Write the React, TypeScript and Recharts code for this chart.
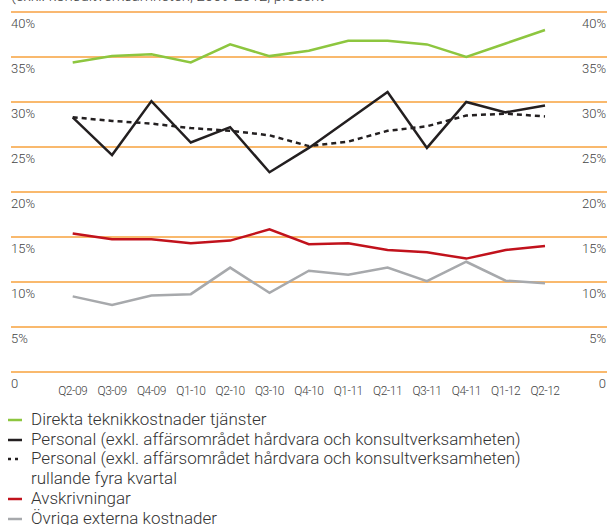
import { LineChart, Line, XAxis, YAxis, CartesianGrid, ReferenceLine } from "recharts";

const FONT = "Roboto, 'Liberation Sans', sans-serif";

const quarters = ["Q2-09", "Q3-09", "Q4-09", "Q1-10", "Q2-10", "Q3-10", "Q4-10", "Q1-11", "Q2-11", "Q3-11", "Q4-11", "Q1-12", "Q2-12"];
const direkta = [34.4, 35.1, 35.3, 34.4, 36.4, 35.1, 35.7, 36.8, 36.8, 36.4, 35.0, 36.5, 38.0];
const personal = [28.3, 24.1, 30.1, 25.5, 27.2, 22.2, 24.9, 28.0, 31.1, 24.9, 30.0, 28.85, 29.6];
const personalRolling = [28.3, 27.9, 27.6, 27.1, 26.8, 26.3, 25.1, 25.6, 26.8, 27.3, 28.5, 28.7, 28.4];
const avskrivningar = [15.4, 14.75, 14.75, 14.3, 14.6, 15.85, 14.2, 14.3, 13.55, 13.3, 12.6, 13.55, 14.0];
const ovriga = [8.4, 7.45, 8.5, 8.65, 11.6, 8.8, 11.25, 10.8, 11.6, 10.1, 12.25, 10.15, 9.85];
const yTicks = [0, 5, 10, 15, 20, 25, 30, 35, 40];

const data = quarters.map((q, i) => ({
  q,
  direkta: direkta[i],
  personal: personal[i],
  personalRolling: personalRolling[i],
  avskrivningar: avskrivningar[i],
  ovriga: ovriga[i],
}));

const legend = [
  { label: "Direkta teknikkostnader tjänster", color: "#8dc63f", dash: false },
  { label: "Personal (exkl. affärsområdet hårdvara och konsultverksamheten)", color: "#231f20", dash: false },
  { label: "Personal (exkl. affärsområdet hårdvara och konsultverksamheten)\nrullande fyra kvartal", color: "#231f20", dash: true },
  { label: "Avskrivningar", color: "#c1121c", dash: false },
  { label: "Övriga externa kostnader", color: "#a7a9ac", dash: false },
];

const renderYTick = (props: any) => {
  const { y, payload } = props;
  const txt = payload.value === 0 ? "0" : `${payload.value}%`;
  return (
    <g key={payload.value}>
      <text x={11} y={y + 16} fontSize={13} fill="#444" fontFamily={FONT} fontWeight={300} textAnchor="start">{txt}</text>
      <text x={606} y={y + 16} fontSize={13} fill="#444" fontFamily={FONT} fontWeight={300} textAnchor="end">{txt}</text>
    </g>
  );
};

export default function App() {
  return (
    <div style={{ position: "absolute", left: 0, top: 0, width: 609, height: 525, background: "#fff", overflow: "hidden", fontFamily: FONT }}>
      <div style={{ position: "absolute", left: 11, top: -11, fontSize: 15, lineHeight: "15px", color: "#444", whiteSpace: "nowrap", fontWeight: 300 }}>
        (exkl. konsultverksamheten, 2009-2012, procent
      </div>
      <LineChart width={609} height={400} data={data} margin={{ top: 12, right: 2, left: 10, bottom: 0 }}>
        <CartesianGrid vertical={false} stroke="#f7a23c" strokeWidth={1.5} />
        <ReferenceLine y={40} stroke="#f9b873" strokeWidth={1.5} />
        <XAxis
          dataKey="q"
          height={28}
          axisLine={false}
          tickLine={false}
          interval={0}
          padding={{ left: 61.7, right: 62 }}
          tickMargin={8}
          tick={{ fontSize: 12, fill: "#444", fontFamily: FONT, fontWeight: 300, letterSpacing: -0.5 }}
        />
        <YAxis width={1} domain={[0, 40]} ticks={yTicks} interval={0} axisLine={false} tickLine={false} tick={renderYTick} />
        <Line type="linear" dataKey="direkta" stroke="#8dc63f" strokeWidth={2.5} dot={false} isAnimationActive={false} />
        <Line type="linear" dataKey="ovriga" stroke="#a7a9ac" strokeWidth={2.5} dot={false} isAnimationActive={false} />
        <Line type="linear" dataKey="avskrivningar" stroke="#c1121c" strokeWidth={2.5} dot={false} isAnimationActive={false} />
        <Line type="linear" dataKey="personalRolling" stroke="#231f20" strokeWidth={2.5} strokeDasharray="5 4" dot={false} isAnimationActive={false} />
        <Line type="linear" dataKey="personal" stroke="#231f20" strokeWidth={2.5} dot={false} isAnimationActive={false} />
      </LineChart>
      <div style={{ position: "absolute", left: 0, top: 410, fontSize: 17, lineHeight: "19.7px", color: "#333", fontWeight: 300 }}>
        {legend.map((l) => (
          <div key={l.label} style={{ position: "relative", paddingLeft: 31, whiteSpace: "pre" }}>
            <svg width={20} height={10} style={{ position: "absolute", left: 6, top: 5 }}>
              <line x1={2} x2={l.dash ? 13 : 16} y1={5} y2={5} stroke={l.color} strokeWidth={2.5} strokeDasharray={l.dash ? "3 4" : undefined} />
            </svg>
            {l.label}
          </div>
        ))}
      </div>
    </div>
  );
}
